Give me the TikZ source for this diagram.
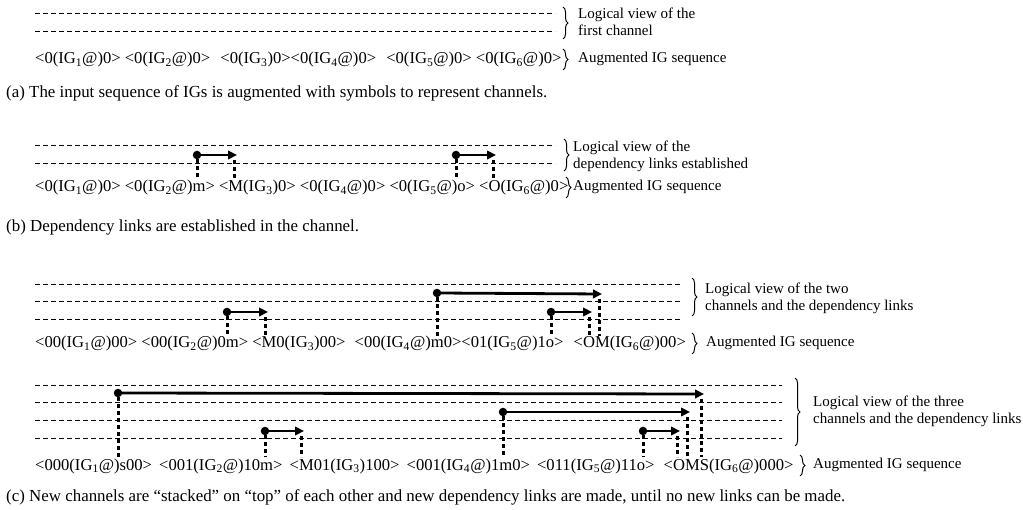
\documentclass[tikz,border=0pt]{standalone}
\usepackage{fontspec}
\setmainfont{Liberation Serif}
\usetikzlibrary{arrows.meta, decorations.pathreplacing}
\newcommand{\ig}[1]{IG\textsubscript{#1}}
\tikzset{
    seqnode/.style = {anchor=base west, inner sep=0em, font=\fontsize{16.6}{18}\selectfont},
    capnode/.style = {anchor=base west, inner sep=0em, font=\fontsize{16.9}{20}\selectfont},
    labelnode/.style = {anchor=west, inner sep=0em, align=left, font=\fontsize{15}{17}\selectfont},
    dotnode/.style = {draw=none, fill=black, circle, inner sep=0em, minimum size=8.5pt},
    chanline/.style = {black, line width=1pt, dash pattern=on 5pt off 3pt},
    link/.style = {black, line width=2.8pt, -{Triangle[length=9pt,width=8.5pt]}},
    drop/.style = {black, line width=3pt, dash pattern=on 4pt off 3pt},
    bracepath/.style = {decorate, decoration={brace, amplitude=5pt}, line width=1pt}
}
\begin{document}
\begin{tikzpicture}[x=1pt, y=-1pt]
    \useasboundingbox (0,0) rectangle (1023,510);

    % (a)
    \draw [chanline] (35,14) -- (555,14);
    \draw [chanline] (35,32) -- (555,32);
    \draw [bracepath] (563,7) -- (563,39);
    \node [name=la1, labelnode] at (578,22) {Logical view of the\\first channel};
    \node [name=sa, seqnode] at (35,64) {<0(\ig1@)0> <0(\ig2@)0>\hspace{6pt} <0(\ig3)0><0(\ig4@)0>\hspace{6pt} <0(\ig5@)0> <0(\ig6@)0>};
    \draw [bracepath] (563,49) -- (563,70);
    \node [name=la2, labelnode] at (578,59) {Augmented IG sequence};
    \node [name=ca, capnode] at (6,98) {(a) The input sequence of IGs is augmented with symbols to represent channels.};

    % (b)
    \draw [chanline] (35,146) -- (555,146);
    \draw [chanline] (35,164) -- (555,164);
    \coordinate (bb) at (0,180);
    \node [name=db1, dotnode] at (197,155) {};
    \coordinate (tb1) at (237,155);
    \node [name=db2, dotnode] at (456,155) {};
    \coordinate (tb2) at (496,155);
    \draw [link] (db1.center) -- (tb1);
    \draw [link] (db2.center) -- (tb2);
    \draw [drop] (db1.south) -- (db1 |- bb);
    \draw [drop] ([xshift=-3pt,yshift=-5pt]tb1) -- ([xshift=-3pt]tb1 |- bb);
    \draw [drop] (db2.south) -- (db2 |- bb);
    \draw [drop] ([xshift=-3pt,yshift=-5pt]tb2) -- ([xshift=-3pt]tb2 |- bb);
    \draw [bracepath] (564,139) -- (564,171);
    \node [name=lb1, labelnode] at (573,156) {Logical view of the\\dependency links established};
    \node [name=sb, seqnode] at (35,192) {<0(\ig1@)0> <0(\ig2@)m> <M(\ig3)0> <0(\ig4@)0> <0(\ig5@)o> <O(\ig6@)0>};
    \draw [bracepath] (566,177) -- (566,198);
    \node [name=lb2, labelnode] at (573,187) {Augmented IG sequence};
    \node [name=cb, capnode] at (6,232) {(b) Dependency links are established in the channel.};

    % (c) two channels
    \draw [chanline] (35,285) -- (680,285);
    \draw [chanline] (35,302) -- (680,302);
    \draw [chanline] (35,320) -- (680,320);
    \coordinate (bc) at (0,336);
    \node [name=dc1, dotnode] at (437,293) {};
    \coordinate (tc1) at (602,294);
    \node [name=dc2, dotnode] at (551,312) {};
    \coordinate (tc2) at (592,312);
    \node [name=dc3, dotnode] at (227,312) {};
    \coordinate (tc3) at (268,312);
    \draw [link] (dc1.center) -- (tc1);
    \draw [link] (dc2.center) -- (tc2);
    \draw [link] (dc3.center) -- (tc3);
    \draw [drop] (dc1.south) -- (dc1 |- bc);
    \draw [drop] ([xshift=-3pt,yshift=-5pt]tc1) -- ([xshift=-3pt]tc1 |- bc);
    \draw [drop] (dc2.south) -- (dc2 |- bc);
    \draw [drop] ([xshift=-3pt,yshift=-5pt]tc2) -- ([xshift=-3pt]tc2 |- bc);
    \draw [drop] (dc3.south) -- (dc3 |- bc);
    \draw [drop] ([xshift=-3pt,yshift=-5pt]tc3) -- ([xshift=-3pt]tc3 |- bc);
    \draw [bracepath] (692,278) -- (692,316);
    \node [name=lc1, labelnode] at (705,298) {Logical view of the two\\channels and the dependency links};
    \node [name=sc, seqnode] at (35,348) {<00(\ig1@)00> <00(\ig2@)0m> <M0(\ig3)00>\hspace{5pt} <00(\ig4@)m0><01(\ig5@)1o>\hspace{6pt} <OM(\ig6@)00>};
    \draw [bracepath] (692,333) -- (692,354);
    \node [name=lc2, labelnode] at (706,343) {Augmented IG sequence};

    % (c) three channels
    \draw [chanline] (35,386) -- (782,386);
    \draw [chanline] (35,403) -- (782,403);
    \draw [chanline] (35,421) -- (782,421);
    \draw [chanline] (35,439) -- (782,439);
    \coordinate (bd) at (0,457);
    \node [name=dd1, dotnode] at (118,393) {};
    \coordinate (td1) at (704,394);
    \node [name=dd2, dotnode] at (503,412) {};
    \coordinate (td2) at (690,412);
    \node [name=dd3, dotnode] at (643,431) {};
    \coordinate (td3) at (680,431);
    \node [name=dd4, dotnode] at (265,431) {};
    \coordinate (td4) at (304,431);
    \draw [link] (dd1.center) -- (td1);
    \draw [link] (dd2.center) -- (td2);
    \draw [link] (dd3.center) -- (td3);
    \draw [link] (dd4.center) -- (td4);
    \draw [drop] (dd1.south) -- (dd1 |- bd);
    \draw [drop] ([xshift=-3pt,yshift=-5pt]td1) -- ([xshift=-3pt]td1 |- bd);
    \draw [drop] (dd2.south) -- (dd2 |- bd);
    \draw [drop] ([xshift=-3pt,yshift=-5pt]td2) -- ([xshift=-3pt]td2 |- bd);
    \draw [drop] (dd3.south) -- (dd3 |- bd);
    \draw [drop] ([xshift=-3pt,yshift=-5pt]td3) -- ([xshift=-3pt]td3 |- bd);
    \draw [drop] (dd4.south) -- (dd4 |- bd);
    \draw [drop] ([xshift=-3pt,yshift=-5pt]td4) -- ([xshift=-3pt]td4 |- bd);
    \draw [bracepath] (795,378) -- (795,446);
    \node [name=ld1, labelnode] at (813,411) {Logical view of the three\\channels and the dependency links};
    \node [name=sd, seqnode] at (35,470) {<000(\ig1@)s00>\hspace{3pt} <001(\ig2@)10m>\hspace{3pt} <M01(\ig3)100>\hspace{3pt} <001(\ig4@)1m0>\hspace{3pt} <011(\ig5@)11o>\hspace{5pt} <OMS(\ig6@)000>};
    \draw [bracepath] (800,455) -- (800,476);
    \node [name=ld2, labelnode] at (813,465) {Augmented IG sequence};
    \node [name=cd, capnode] at (6,501) {(c) New channels are “stacked” on “top” of each other and new dependency links are made, until no new links can be made.};
\end{tikzpicture}
\end{document}
